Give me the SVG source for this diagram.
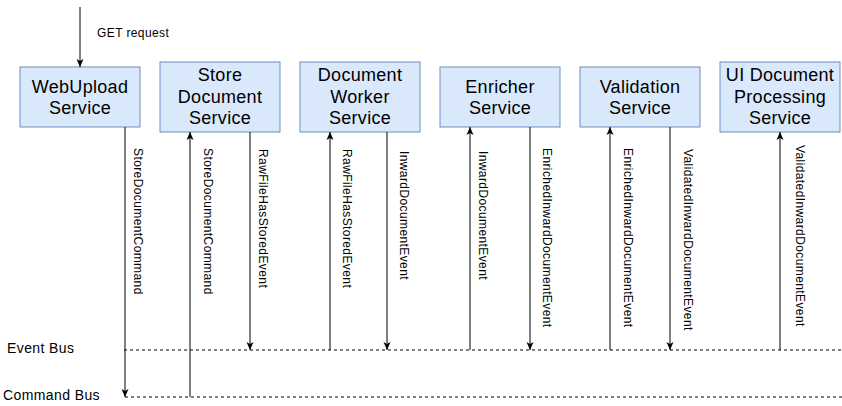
<svg xmlns="http://www.w3.org/2000/svg" width="842" height="406" viewBox="0 0 842 406">
<defs>
<marker id="arr" markerUnits="userSpaceOnUse" markerWidth="8" markerHeight="8" viewBox="0 0 8 8" refX="8" refY="4" orient="auto">
<path d="M0,0.5 L8,4 L0,7.5 L2,4 Z" fill="#000"/>
</marker>
<style>
.box{fill:#dae8fc;stroke:#6c8ebf;stroke-width:1}
.bt{font-family:"Liberation Sans",Arial,sans-serif;font-size:18px;letter-spacing:0.3px;text-anchor:middle;fill:#000}
.lbl{font-family:"Liberation Sans",Arial,sans-serif;font-size:12px;letter-spacing:0.4px;fill:#000}
.bus{font-family:"Liberation Sans",Arial,sans-serif;font-size:14px;letter-spacing:0.4px;fill:#000}
.ln{stroke:#000;stroke-width:1;fill:none}
.arw{stroke:#000;stroke-width:1;fill:none;marker-end:url(#arr)}
.dash{stroke:#000;stroke-width:1;stroke-dasharray:3 3;fill:none}
</style>
</defs>
<rect width="842" height="406" fill="#fff"/>

<g id="buses">
<line class="dash" x1="124" y1="350" x2="842" y2="350"/>
<line class="dash" x1="125" y1="397" x2="842" y2="397"/>
<text class="bus" x="7" y="353">Event Bus</text>
<text class="bus" x="3" y="400">Command Bus</text>
</g>

<g id="webupload">
<rect class="box" x="20" y="67" width="120" height="60"/>
<text class="bt" x="80" y="92.5">WebUpload</text>
<text class="bt" x="80" y="114">Service</text>
</g>
<g id="storedocument">
<rect class="box" x="160" y="62" width="120" height="70"/>
<text class="bt" x="220" y="81">Store</text>
<text class="bt" x="220" y="102.5">Document</text>
<text class="bt" x="220" y="124">Service</text>
</g>
<g id="documentworker">
<rect class="box" x="300" y="62" width="120" height="70"/>
<text class="bt" x="360" y="81">Document</text>
<text class="bt" x="360" y="102.5">Worker</text>
<text class="bt" x="360" y="124">Service</text>
</g>
<g id="enricher">
<rect class="box" x="440" y="67" width="120" height="60"/>
<text class="bt" x="500" y="92.5">Enricher</text>
<text class="bt" x="500" y="114">Service</text>
</g>
<g id="validation">
<rect class="box" x="580" y="67" width="120" height="60"/>
<text class="bt" x="640" y="92.5">Validation</text>
<text class="bt" x="640" y="114">Service</text>
</g>
<g id="uidocument">
<rect class="box" x="720" y="62" width="120" height="70"/>
<text class="bt" x="780" y="81">UI Document</text>
<text class="bt" x="780" y="102.5">Processing</text>
<text class="bt" x="780" y="124">Service</text>
</g>

<g id="connectors">
<line class="arw" x1="80" y1="7" x2="80" y2="67"/>
<text class="lbl" x="97" y="37">GET request</text>

<line class="arw" x1="125" y1="127" x2="125" y2="397"/>
<text class="lbl" transform="translate(133.5,148) rotate(90)">StoreDocumentCommand</text>

<line class="arw" x1="190" y1="397" x2="190" y2="132"/>
<text class="lbl" transform="translate(203.5,148) rotate(90)">StoreDocumentCommand</text>

<line class="arw" x1="250" y1="132" x2="250" y2="350"/>
<text class="lbl" transform="translate(258.5,149) rotate(90)">RawFileHasStoredEvent</text>

<line class="arw" x1="330" y1="350" x2="330" y2="132"/>
<text class="lbl" transform="translate(342.5,149) rotate(90)">RawFileHasStoredEvent</text>

<line class="arw" x1="387" y1="132" x2="387" y2="350"/>
<text class="lbl" transform="translate(399.5,151) rotate(90)">InwardDocumentEvent</text>

<line class="arw" x1="470" y1="350" x2="470" y2="127"/>
<text class="lbl" transform="translate(478.5,151) rotate(90)">InwardDocumentEvent</text>

<line class="arw" x1="530" y1="127" x2="530" y2="350"/>
<text class="lbl" transform="translate(542.5,148) rotate(90)">EnrichedInwardDocumentEvent</text>

<line class="arw" x1="610" y1="350" x2="610" y2="127"/>
<text class="lbl" transform="translate(623.5,148) rotate(90)">EnrichedInwardDocumentEvent</text>

<line class="arw" x1="670" y1="127" x2="670" y2="350"/>
<text class="lbl" transform="translate(683.5,149) rotate(90)">ValidatedInwardDocumentEvent</text>

<line class="arw" x1="780" y1="350" x2="780" y2="132"/>
<text class="lbl" transform="translate(795.5,145) rotate(90)">ValidatedInwardDocumentEvent</text>
</g>
</svg>
